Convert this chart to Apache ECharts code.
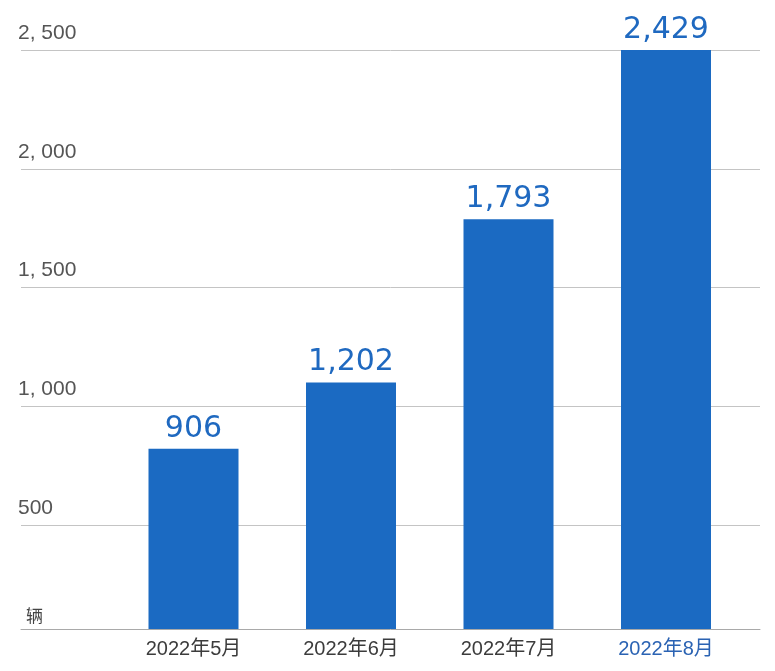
<!DOCTYPE html>
<html>
<head>
<meta charset="utf-8">
<script src="https://cdn.jsdelivr.net/npm/echarts@6/dist/echarts.min.js"></script>
<style>
  html, body { margin: 0; padding: 0; background: #ffffff; }
  #chart { width: 775px; height: 671px; }
</style>
</head>
<body>
<div id="chart"></div>
<script>
// ---- data ----
const categories = ['2022年5月', '2022年6月', '2022年7月', '2022年8月'];
// values printed above the bars
const salesLabels = [906, 1202, 1793, 2429];
// bar heights as drawn in the reference, read against its y-axis
const barLevels = [822, 1101, 1788, 2500];
// y-axis ticks and their labels
const yTickValues = [500, 1000, 1500, 2000, 2500];
const yTickLabels = ['500', '1, 000', '1, 500', '2, 000', '2, 500'];
const unitLabel = '辆';
const yMin = 64;
const yMax = 2500;
const highlightIndex = 3;

const chart = echarts.init(document.getElementById('chart'), null, { renderer: 'canvas' });

const labelFont = "'Liberation Sans', 'Noto Sans CJK SC', sans-serif";

const option = {
  backgroundColor: '#ffffff',
  animation: false,
  grid: [
    { left: 21, right: 15, top: 50, bottom: 42, containLabel: false },
    { left: 114.75, right: 30.25, top: 50, bottom: 42, containLabel: false }
  ],
  xAxis: [
    {
      type: 'category',
      gridIndex: 0,
      data: categories,
      axisLine: { show: true, lineStyle: { color: '#a9a9a9', width: 1 } },
      axisTick: { show: false },
      axisLabel: { show: false },
      splitLine: { show: false }
    },
    {
      type: 'category',
      gridIndex: 1,
      data: categories,
      axisLine: { show: false },
      axisTick: { show: false },
      splitLine: { show: false },
      axisLabel: {
        margin: 10,
        fontSize: 20,
        fontFamily: labelFont,
        color: function (value, index) {
          return index === highlightIndex ? '#2b63b3' : '#3c3c3c';
        }
      }
    }
  ],
  yAxis: [
    {
      type: 'value',
      gridIndex: 0,
      min: yMin,
      max: yMax,
      axisLine: { show: false },
      axisTick: { show: false, customValues: yTickValues },
      splitLine: { show: true, lineStyle: { color: '#c4c4c4', width: 1 } },
      axisLabel: {
        customValues: [yMin].concat(yTickValues),
        align: 'left',
        verticalAlign: 'bottom',
        margin: 3,
        formatter: function (value) {
          const i = yTickValues.indexOf(value);
          if (i < 0) return '{u|' + unitLabel + '}';
          return '{n|' + yTickLabels[i] + '}';
        },
        rich: {
          n: { fontSize: 21, fontFamily: labelFont, color: '#555555', lineHeight: 24, padding: [0, 0, 10, 0] },
          u: { fontSize: 17, fontFamily: "'Noto Sans CJK SC', sans-serif", color: '#444444', lineHeight: 20, padding: [0, 0, 7, 8] }
        }
      }
    },
    {
      type: 'value',
      gridIndex: 1,
      min: yMin,
      max: yMax,
      show: false,
      splitLine: { show: false }
    }
  ],
  series: [
    {
      type: 'bar',
      xAxisIndex: 1,
      yAxisIndex: 1,
      data: barLevels,
      barWidth: 90,
      itemStyle: { color: '#1b6ac2' },
      label: {
        show: true,
        position: 'top',
        distance: 5,
        fontSize: 30,
        fontFamily: "'DejaVu Sans', sans-serif",
        color: '#1f69c0',
        formatter: function (p) {
          return salesLabels[p.dataIndex].toLocaleString('en-US');
        }
      }
    }
  ]
};

chart.setOption(option);
</script>
</body>
</html>
